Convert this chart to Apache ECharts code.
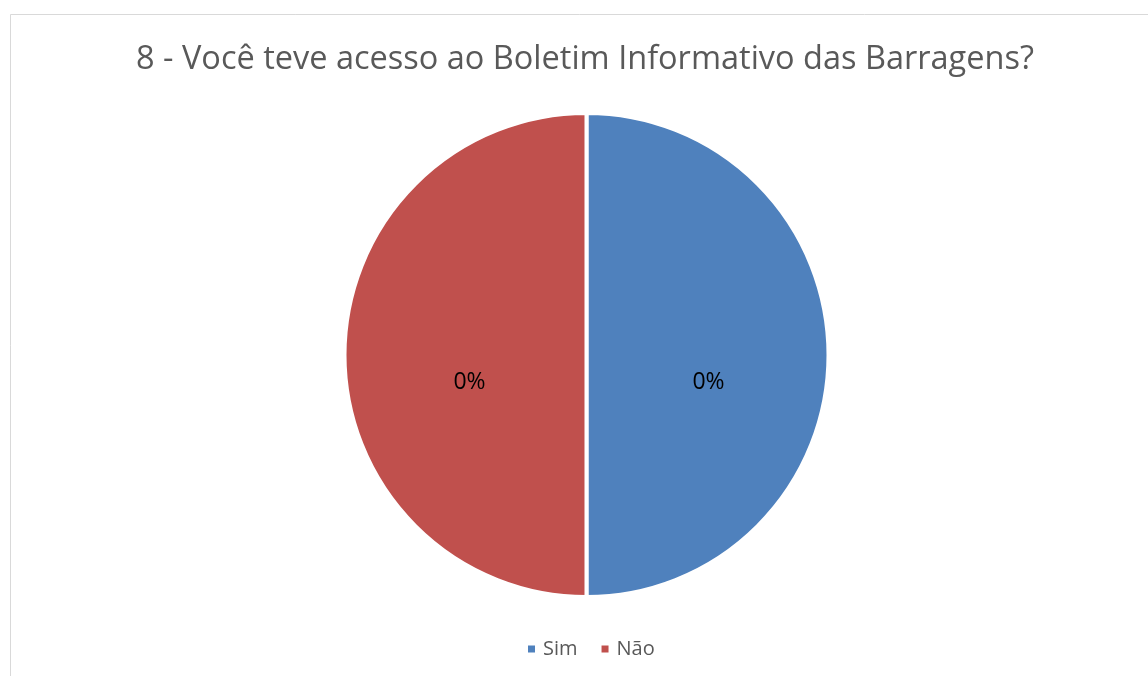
<!DOCTYPE html>
<html><head><meta charset="utf-8">
<script src="https://cdn.jsdelivr.net/npm/echarts@6/dist/echarts.min.js"></script>
<style>html,body{margin:0;padding:0;background:#fff}#c{width:1148px;height:676px}</style>
</head><body><div id="c"></div>
<script>
const titleText = '8 - Você teve acesso ao Boletim Informativo das Barragens?';
const categories = ['Sim', 'Não'];
const values = [0.004, 0.004];
const colors = ['#4F81BD', '#C0504D'];

const chart = echarts.init(document.getElementById('c'));
chart.setOption({
  animation: false,
  backgroundColor: '#fff',
  graphic: [{
    type: 'rect', shape: {x: 10.5, y: 14.5, width: 1200, height: 700},
    style: {fill: 'none', stroke: '#D9D9D9', lineWidth: 1}, silent: true, z: -1
  }],
  title: {
    text: titleText, left: 580, top: 38, textAlign: 'center',
    textStyle: {fontFamily: 'Open Sans', fontSize: 32.5, fontWeight: 'normal', color: '#595959'}
  },
  legend: {
    data: categories, top: 634, left: 521, itemWidth: 9, itemHeight: 9, itemGap: 22,
    icon: 'rect', textStyle: {fontFamily: 'Open Sans', fontSize: 20, color: '#595959', padding: [0, 0, 0, 2]}
  },
  series: [{
    type: 'pie', center: [586.5, 355], radius: 242, startAngle: 90, clockwise: true,
    itemStyle: {borderColor: '#fff', borderWidth: 4},
    label: {
      position: 'inside', color: '#000', fontFamily: 'Open Sans', fontSize: 23,
      formatter: p => Math.round(p.value * 100) + '%'
    },
    labelLine: {show: false},
    data: categories.map((c, i) => ({
      name: c, value: values[i], itemStyle: {color: colors[i]},
      label: {offset: [i === 0 ? -2 : 7, 27]}
    }))
  }]
});
</script></body></html>
